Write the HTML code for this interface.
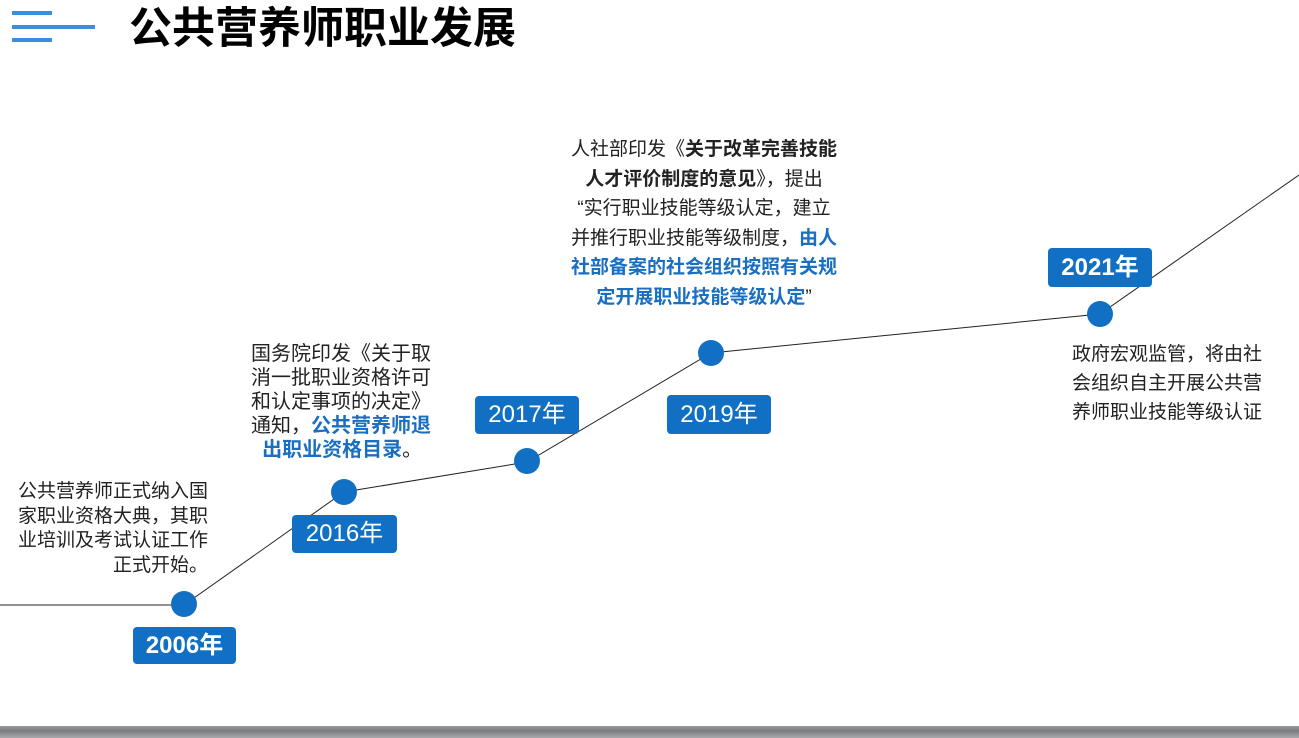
<!DOCTYPE html>
<html><head><meta charset="utf-8"><style>
body{margin:0;width:1299px;height:738px;overflow:hidden;background:#fff;position:relative;font-family:"Liberation Sans","Noto Sans CJK SC",sans-serif;}
.a{position:absolute;white-space:nowrap;}
.t{font-size:19px;color:#222;}
.b{color:#1a6fc0;font-weight:bold;}
.y{position:absolute;background:#1170c4;color:#fff;border-radius:4px;text-align:center;font-size:24px;}
</style></head><body>
<div class="a" style="left:12px;top:11px;width:40px;height:4px;background:#3a8ee0"></div>
<div class="a" style="left:12px;top:25px;width:83px;height:4px;background:#3a8ee0"></div>
<div class="a" style="left:12px;top:38px;width:40px;height:4px;background:#3a8ee0"></div>
<div class="a" style="left:129px;top:3px;font-size:43px;font-weight:bold;color:#000;line-height:52px">公共营养师职业发展</div>
<svg class="a" style="left:0;top:0" width="1299" height="738">
<polyline points="0,605 184,605 344,492 527,462 711,353 1100,314 1299,175" fill="none" stroke="#222" stroke-width="1"/>
<g fill="#1170c4"><circle cx="184" cy="604" r="13"/><circle cx="344" cy="492" r="13"/><circle cx="527" cy="461" r="13"/><circle cx="711" cy="353" r="13"/><circle cx="1100" cy="314" r="13"/></g>
</svg>
<div class="y" style="left:133px;top:627px;width:103px;height:37px;line-height:37px;font-weight:bold">2006年</div>
<div class="y" style="left:292px;top:515px;width:105px;height:38px;line-height:38px">2016年</div>
<div class="y" style="left:475px;top:396px;width:104px;height:38px;line-height:38px">2017年</div>
<div class="y" style="left:667px;top:395px;width:104px;height:39px;line-height:39px">2019年</div>
<div class="y" style="left:1048px;top:248px;width:104px;height:39px;line-height:39px;font-weight:bold">2021年</div>
<div class="a t" style="right:1091px;top:480px;line-height:24.5px;text-align:right">公共营养师正式纳入国<br>家职业资格大典，其职<br>业培训及考试认证工作<br>正式开始。</div>
<div class="a t" style="left:251px;top:342px;line-height:24px;font-size:20px">国务院印发《关于取<br>消一批职业资格许可<br>和认定事项的决定》<br>通知，<span class="b">公共营养师退</span><br>&nbsp;&nbsp;<span class="b">出职业资格目录</span>。</div>
<div class="a t" style="left:554px;top:135px;width:300px;line-height:29.5px;text-align:center">人社部印发《<b>关于改革完善技能<br>人才评价制度的意见</b>》，提出<br>“实行职业技能等级认定，建立<br>并推行职业技能等级制度，<span class="b">由人<br>社部备案的社会组织按照有关规<br>定开展职业技能等级认定</span>”</div>
<div class="a t" style="left:1072px;top:340px;line-height:29px">政府宏观监管，将由社<br>会组织自主开展公共营<br>养师职业技能等级认证</div>
<div class="a" style="left:0;top:726px;width:1299px;height:12px;background:linear-gradient(#9a9a9a,#7a7d80 40%,#a8aaad)"></div>
</body></html>
